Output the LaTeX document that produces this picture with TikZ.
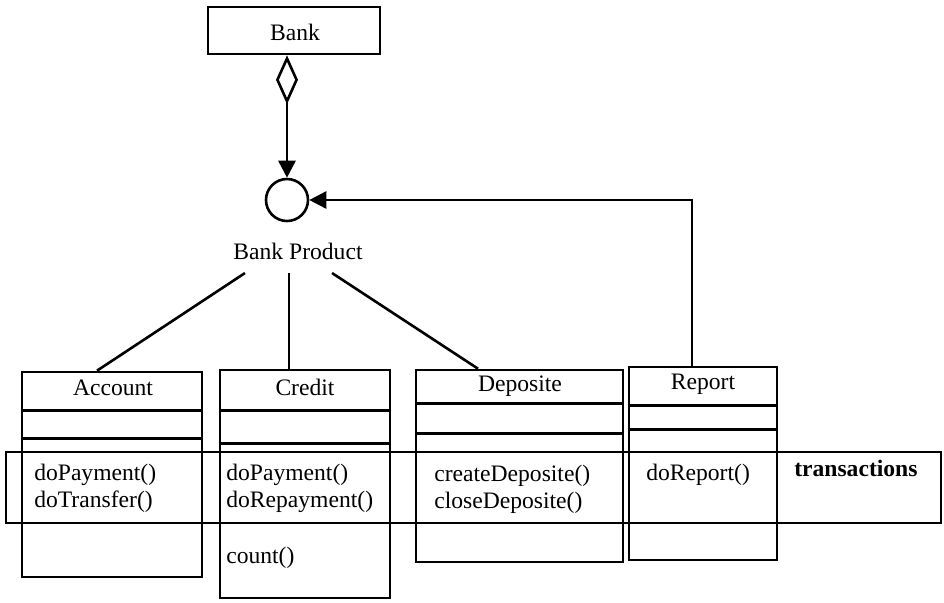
\documentclass[tikz,border=0pt]{standalone}
\usepackage{fontspec}
\setmainfont{Liberation Serif}
\usetikzlibrary{arrows.meta}
\begin{document}
\begin{tikzpicture}[x=0.5pt,y=-0.5pt,
  line width=1.3pt,
  every node/.style={font=\fontsize{11.8}{13.5}\selectfont},
  box/.style={draw, rectangle, inner sep=0pt},
  txt/.style={inner sep=0pt},
  ops/.style={inner sep=0pt, anchor=west, align=left},
  agg/.style={{Diamond[open,length=24.5pt,width=11pt]}-{Triangle[length=8.5pt,width=8.5pt]}},
  dep/.style={-{Triangle[length=8.5pt,width=8.5pt]}}
]
\useasboundingbox (0,0) rectangle (944,602);

% Bank
\node[box, minimum width=86pt, minimum height=23.5pt] (bank) at (294,30.5) {};
\node[txt] (banktxt) at (295,32) {Bank};

% Bank Product (interface circle)
\node[draw, circle, minimum size=21pt, inner sep=0pt] (prod) at (287,200) {};
\node[txt] (bplabel) at (298,251) {Bank Product};

% Class boxes
\node[box, minimum width=90pt, minimum height=102.5pt] (account) at (112,474.5) {};
\node[box, minimum width=85pt, minimum height=114pt] (credit) at (305,484) {};
\node[box, minimum width=103.5pt, minimum height=96pt] (deposite) at (519.5,466) {};
\node[box, minimum width=74pt, minimum height=96.5pt] (report) at (703,463.5) {};

% transactions band
\node[box, minimum width=467.5pt, minimum height=35.5pt] (trans) at (473.5,487.5) {};
\node[txt, anchor=west, font=\fontsize{11.8}{13.5}\selectfont\bfseries] (transtxt) at (793,468) {transactions};

% compartments
\draw ([yshift=-20pt]account.north west) -- ([yshift=-20pt]account.north east);
\draw ([yshift=-34pt]account.north west) -- ([yshift=-34pt]account.north east);
\draw ([yshift=-21pt]credit.north west) -- ([yshift=-21pt]credit.north east);
\draw ([yshift=-37.5pt]credit.north west) -- ([yshift=-37.5pt]credit.north east);
\draw ([yshift=-17.5pt]deposite.north west) -- ([yshift=-17.5pt]deposite.north east);
\draw ([yshift=-32.5pt]deposite.north west) -- ([yshift=-32.5pt]deposite.north east);
\draw ([yshift=-20pt]report.north west) -- ([yshift=-20pt]report.north east);
\draw ([yshift=-32pt]report.north west) -- ([yshift=-32pt]report.north east);

% class names
\node[txt] (accname) at (113,388) {Account};
\node[txt] (credname) at (305,387) {Credit};
\node[txt] (depname) at (520,386) {Deposite};
\node[txt] (repname) at (703,384) {Report};

% operations
\node[ops] (accops) at (33,488.5) {doPayment()\\doTransfer()};
\node[ops] (credops) at (225,488.5) {doPayment()\\doRepayment()};
\node[ops] (credcount) at (225,558) {count()};
\node[ops] (depops) at (433,489) {createDeposite()\\closeDeposite()};
\node[ops] (repops) at (645,475) {doReport()};

% connectors
\draw[agg] (prod.north |- bank.south) -- (prod.north);
\draw[dep] ([xshift=-5.5pt]report.north) |- (prod.east);

\coordinate (l1) at (245,273);
\coordinate (l2) at (289,273);
\coordinate (l3) at (332,273);
\draw (l1) -- ([xshift=-7.5pt]account.north);
\draw (l2) -- (l2 |- credit.north);
\draw (l3) -- ([xshift=-20.75pt]deposite.north);
\end{tikzpicture}
\end{document}
